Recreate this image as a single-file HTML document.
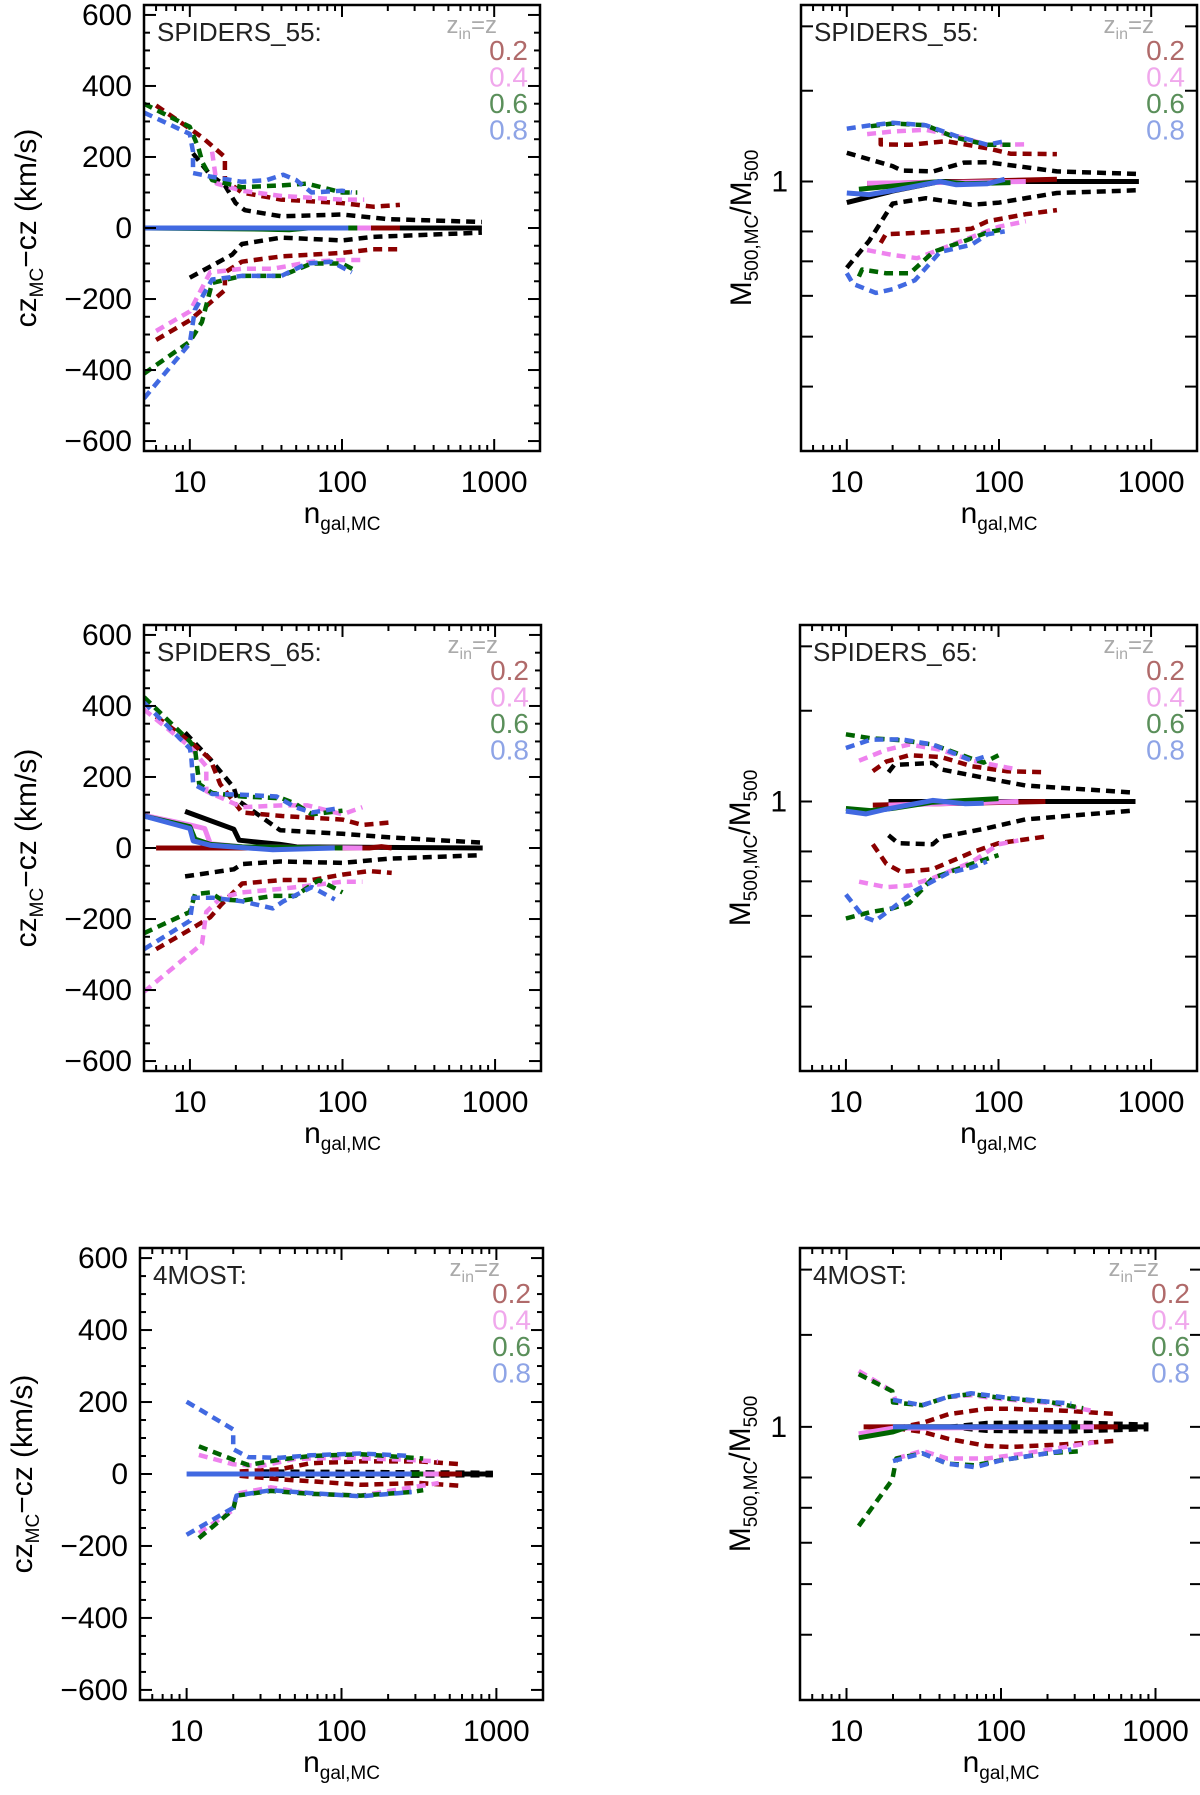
<!DOCTYPE html>
<html><head><meta charset="utf-8">
<style>
html,body{margin:0;padding:0;background:#fff;}
svg{display:block;font-family:"Liberation Sans",sans-serif;}
</style></head>
<body>
<svg id="fig" width="1200" height="1795" viewBox="0 0 1200 1795" xmlns="http://www.w3.org/2000/svg"></svg>
<script>
// ---------- DATA: [n_gal, value] pairs ----------
// Panel cz SPIDERS_55
const cz55_blk_s=[[5,0],[830,0]];
const cz55_blk_u=[[10.5,210],[13.6,150],[17,120],[20,70],[23,50],[40,33],[100,38],[200,25],[830,17]];
const cz55_blk_l=[[10,-140],[19,-75],[22,-45],[40,-27],[100,-35],[160,-25],[830,-13]];
const cz55_red_u=[[6,345],[10,280],[12.1,255],[17,200],[17,135],[22,100],[40,80],[100,70],[160,60],[240,65]];
const cz55_red_l=[[6,-315],[10,-260],[17,-175],[17,-125],[22,-95],[40,-80],[100,-70],[160,-60],[240,-60]];
const cz55_vio_u=[[14,215],[15,125],[22,105],[40,90],[100,80],[140,80]];
const cz55_vio_l=[[6,-290],[10,-235],[13.6,-125],[22,-115],[35,-115],[63,-95],[100,-90],[140,-90]];
const cz55_grn_u=[[5,350],[10,285],[11.4,225],[12.1,185],[14,135],[22,115],[40,120],[59,125],[100,100],[126,100]];
const cz55_grn_l=[[5,-410],[10,-320],[12,-265],[14,-155],[22,-135],[40,-135],[63,-100],[100,-100],[123,-120]];
const cz55_blu_u=[[5,325],[10,265],[10.5,215],[10.5,155],[13.6,145],[22,130],[32,135],[41,150],[50,135],[63,100],[100,105],[116,100]];
const cz55_blu_l=[[5,-480],[10,-325],[10.8,-230],[14,-145],[22,-135],[40,-135],[59,-100],[85,-95],[116,-125]];
const cz55_red_s=[[5,0],[240,0]];
const cz55_vio_s=[[5,0],[155,0]];
const cz55_grn_s=[[5,0],[30,-3],[45,-5],[60,0],[126,0]];
const cz55_blu_s=[[5,0],[110,0]];
// Panel cz SPIDERS_65
const cz65_blk_s=[[9.3,103],[19.4,53],[21,22],[39,10],[50,3],[830,0]];
const cz65_blk_u=[[9.3,325],[13.6,250],[19.4,170],[20.5,135],[39,50],[100,40],[200,30],[830,15]];
const cz65_blk_l=[[9.3,-80],[19.4,-60],[22,-45],[39,-38],[100,-42],[200,-30],[830,-20]];
const cz65_red_u=[[6,370],[10,300],[13.6,250],[15.8,180],[22,100],[40,90],[100,80],[135,65],[210,72]];
const cz65_red_l=[[6,-285],[10,-230],[13.6,-195],[16,-160],[22,-100],[40,-90],[63,-90],[100,-75],[150,-65],[210,-70]];
const cz65_vio_u=[[5,390],[10,285],[12.8,230],[12.8,160],[22,115],[40,120],[59,120],[100,95],[135,115]];
const cz65_vio_l=[[5,-405],[12,-270],[12.8,-180],[16,-140],[22,-125],[40,-115],[63,-105],[100,-95],[135,-95]];
const cz65_grn_u=[[5,425],[10,300],[10.8,280],[11.5,180],[14,155],[22,145],[40,140],[49,125],[63,95],[100,105]];
const cz65_grn_l=[[5,-240],[10,-180],[10.8,-130],[13.6,-125],[16,-145],[22,-148],[35,-135],[49,-135],[70,-90],[100,-125]];
const cz65_blu_u=[[5,410],[10,280],[10.2,260],[10.5,180],[14,152],[22,150],[37,145],[49,115],[63,100],[89,110]];
const cz65_blu_l=[[5,-285],[10,-205],[10.5,-140],[14,-140],[22,-150],[35,-170],[41,-150],[63,-110],[89,-145]];
const cz65_red_s=[[6,0],[150,0],[180,4],[210,0]];
const cz65_vio_s=[[5,92],[10,65],[12.5,55],[13.6,12],[22,3],[135,0]];
const cz65_grn_s=[[5,90],[10,60],[10.8,25],[13.6,10],[22,3],[100,0]];
const cz65_blu_s=[[5,90],[10,55],[10.5,20],[13.6,8],[35,-5],[89,0]];
// Panel cz 4MOST
const cz4m_blk_s=[[20,0],[950,0]];
const cz4m_blk_u=[[30,7],[200,5],[600,4],[950,3]];
const cz4m_blk_l=[[30,-5],[200,-5],[950,-3]];
const cz4m_red_u=[[22,7],[40,13],[63,30],[133,35],[318,35],[600,27]];
const cz4m_red_l=[[22,-5],[40,-15],[63,-20],[133,-30],[318,-25],[600,-33]];
const cz4m_vio_u=[[12,53],[20,27],[30,22],[50,42],[100,45],[250,40],[420,35]];
const cz4m_vio_l=[[12,-164],[20,-100],[21,-55],[35,-37],[63,-55],[133,-60],[425,-25]];
const cz4m_grn_u=[[12,77],[20,40],[25,25],[40,40],[63,50],[133,55],[337,43]];
const cz4m_grn_l=[[12,-178],[20,-99],[21,-60],[35,-47],[63,-55],[133,-60],[284,-50],[337,-45]];
const cz4m_blu_u=[[10,201],[20,124],[20,69],[25,47],[40,45],[63,52],[133,57],[284,50]];
const cz4m_blu_l=[[10,-169],[20,-94],[21,-60],[35,-45],[63,-53],[133,-62],[284,-50]];
const cz4m_red_s=[[13,0],[600,0]];
const cz4m_vio_s=[[12,0],[425,0]];
const cz4m_grn_s=[[12,0],[337,0]];
const cz4m_blu_s=[[10,0],[284,0]];
// Panel M SPIDERS_55
const m55_blk_s=[[10,0.91],[20,0.958],[41,1],[830,1]];
const m55_blk_u=[[10,1.137],[20,1.071],[23,1.05],[37,1.046],[59,1.088],[84,1.09],[240,1.046],[830,1.034]];
const m55_blk_l=[[10,0.68],[14,0.767],[20,0.906],[33,0.928],[66,0.901],[100,0.91],[240,0.95],[830,0.962]];
const m55_red_u=[[16.7,1.216],[16.7,1.18],[26,1.178],[45,1.197],[84,1.16],[119,1.132],[240,1.13]];
const m55_red_l=[[16.7,0.76],[18,0.79],[37,0.798],[66,0.81],[84,0.837],[150,0.864],[240,0.88]];
const m55_vio_u=[[13.6,1.236],[20,1.25],[33,1.26],[52,1.226],[84,1.178],[150,1.18]];
const m55_vio_l=[[13.6,0.736],[20,0.72],[29,0.71],[47,0.75],[66,0.78],[100,0.817],[150,0.837]];
const m55_grn_u=[[14.4,1.28],[20,1.296],[33,1.286],[52,1.216],[84,1.178],[119,1.178]];
const m55_grn_l=[[12,0.654],[12.6,0.675],[18,0.664],[26,0.664],[37,0.73],[59,0.766],[84,0.797],[112,0.81]];
const m55_blu_u=[[10,1.266],[14.4,1.286],[20,1.30],[33,1.286],[52,1.226],[84,1.178],[109,1.197]];
const m55_blu_l=[[10,0.664],[11,0.633],[15.5,0.608],[20,0.618],[28,0.643],[41,0.73],[66,0.754],[84,0.79],[109,0.80]];
const m55_red_s=[[13.6,0.99],[240,1.01]];
const m55_vio_s=[[13.6,0.992],[150,1]];
const m55_grn_s=[[12,0.966],[41,1],[60,0.99],[119,0.995]];
const m55_blu_s=[[10,0.95],[14,0.943],[20,0.96],[41,1],[52,0.986],[84,0.99],[109,1.01]];
// Panel M SPIDERS_65
const m65_blk_s=[[19,1],[790,1]];
const m65_blk_u=[[19,1.14],[20.7,1.177],[37,1.188],[42,1.154],[84,1.109],[150,1.074],[790,1.04]];
const m65_blk_l=[[19,0.86],[22,0.83],[37,0.826],[42,0.853],[84,0.887],[150,0.923],[790,0.961]];
const m65_red_u=[[15,1.145],[18.4,1.195],[26,1.23],[42,1.22],[67,1.17],[113,1.145],[203,1.14]];
const m65_red_l=[[15,0.826],[18.4,0.757],[23,0.73],[37,0.739],[67,0.797],[100,0.83],[203,0.855]];
const m65_vio_u=[[12.2,1.2],[18.4,1.26],[26,1.29],[42,1.26],[67,1.2],[113,1.164],[135,1.154]];
const m65_vio_l=[[12.2,0.699],[18.4,0.682],[26,0.687],[37,0.71],[67,0.763],[100,0.826],[135,0.84]];
const m65_grn_u=[[10,1.35],[14.5,1.326],[23,1.315],[37,1.29],[67,1.21],[80,1.19],[100,1.23]];
const m65_grn_l=[[10,0.593],[14.5,0.61],[20,0.62],[26,0.635],[37,0.71],[67,0.757],[100,0.787]];
const m65_blu_u=[[10,1.27],[14.5,1.318],[23,1.32],[37,1.29],[67,1.2],[80,1.22]];
const m65_blu_l=[[10,0.66],[13,0.598],[15.5,0.586],[20,0.62],[28,0.67],[47,0.727],[67,0.745],[84,0.765]];
const m65_red_s=[[15,0.984],[203,1]];
const m65_vio_s=[[19,0.984],[135,1]];
const m65_grn_s=[[10,0.969],[14.5,0.96],[20,0.969],[37,0.997],[100,1.013]];
const m65_blu_s=[[10,0.958],[13.5,0.946],[18,0.965],[37,1.005],[60,0.99],[80,0.992]];
// Panel M 4MOST
const m4m_blk_s=[[20,1],[900,1]];
const m4m_blk_u=[[46,1.0],[81,1.017],[257,1.02],[900,1.01]];
const m4m_blk_l=[[46,1.0],[81,0.983],[257,0.98],[900,0.99]];
const m4m_red_u=[[21,0.994],[31,1.017],[46,1.058],[81,1.083],[115,1.083],[257,1.074],[570,1.058]];
const m4m_red_l=[[21,0.994],[31,0.978],[46,0.948],[81,0.919],[115,0.915],[257,0.926],[570,0.941]];
const m4m_vio_u=[[12,1.28],[19.8,1.17],[21,1.114],[31,1.1],[45,1.14],[64,1.15],[102,1.13],[204,1.112],[380,1.075]];
const m4m_vio_l=[[21,0.87],[31,0.9],[45,0.87],[81,0.87],[145,0.89],[400,0.934]];
const m4m_grn_u=[[12,1.262],[19.8,1.17],[20,1.114],[31,1.1],[45,1.14],[64,1.156],[102,1.135],[204,1.117],[340,1.086]];
const m4m_grn_l=[[12,0.646],[19.8,0.792],[21,0.87],[31,0.89],[45,0.85],[68,0.844],[102,0.864],[204,0.891],[325,0.898]];
const m4m_blu_u=[[20,1.126],[31,1.1],[45,1.14],[64,1.16],[102,1.14],[204,1.117],[285,1.108]];
const m4m_blu_l=[[20,0.86],[31,0.89],[45,0.85],[68,0.837],[102,0.864],[204,0.891],[285,0.905]];
const m4m_red_s=[[12.9,1],[570,1]];
const m4m_vio_s=[[12,0.97],[20,0.994],[400,1]];
const m4m_grn_s=[[12,0.953],[20,0.978],[25,1],[325,1]];
const m4m_blu_s=[[20,1],[285,1]];

const xTickLabels=["10","100","1000"];
const xTickValues=[10,100,1000];
const czTickValues=[600,400,200,0,-200,-400,-600];
const mTickValues=[0.4,0.5,0.6,0.7,0.8,1,1.5,2];
const legendLabels=["0.2","0.4","0.6","0.8"];

// ---------- RENDER ----------
const NS="http://www.w3.org/2000/svg";
const svg=document.getElementById('fig');
function mk(tag,attrs,parent){const e=document.createElementNS(NS,tag);for(const k in attrs)e.setAttribute(k,attrs[k]);(parent||svg).appendChild(e);return e;}
const COL={blk:"#000000",red:"#8b0000",vio:"#ee82ee",grn:"#006400",blu:"#4169e1"};
const LEGCOL=["#b06a6a","#f0a8ec","#5a8f5a","#8ea4e6"];

function panel(id,box,kind,label,series){
  const g=mk('g',{});
  
  
  const X0=Math.log10(5),X1=Math.log10(2000);
  const sx=n=>box.l+(Math.log10(n)-X0)/(X1-X0)*box.w;
  let sy;
  if(kind==='cz'){sy=v=>box.t+(628-v)/1256*box.h;}
  else{const Y0=Math.log10(0.3),Y1=Math.log10(2.2);sy=v=>box.t+(Y1-Math.log10(v))/(Y1-Y0)*box.h;}
  const clip=mk('clipPath',{id:'c'+id},g);
  mk('rect',{x:box.l,y:box.t,width:box.w,height:box.h},clip);
  const lg=mk('g',{'clip-path':'url(#c'+id+')'},g);
  const order=['blk','red','vio','grn','blu'];
  order.forEach(c=>{['u','l'].forEach(s=>{
    const d=series[c+'_'+s];if(!d)return;
    const p=mk('polyline',{points:d.map(q=>sx(q[0]).toFixed(1)+','+sy(q[1]).toFixed(1)).join(' '),fill:'none',stroke:COL[c],'stroke-width':4.5,'stroke-dasharray':'9 6','stroke-linejoin':'round'},lg);
    
    
  });});
  order.forEach(c=>{
    const d=series[c+'_s'];if(!d)return;
    const p=mk('polyline',{points:d.map(q=>sx(q[0]).toFixed(1)+','+sy(q[1]).toFixed(1)).join(' '),fill:'none',stroke:COL[c],'stroke-width':5,'stroke-linejoin':'round'},lg);
    
    
  });
  const fr=mk('rect',{x:box.l,y:box.t,width:box.w,height:box.h,fill:'none',stroke:'#000','stroke-width':2.5},g);
  
  
  const B=box.t+box.h,R=box.l+box.w;
  [1,10,100,1000].forEach(dec=>{for(let k=1;k<10;k++){const n=dec*k;if(n<5||n>2000)continue;
    const x=sx(n),L=(k===1)?12:6;
    mk('line',{x1:x,y1:B,x2:x,y2:B-L,stroke:'#000','stroke-width':2},g);
    mk('line',{x1:x,y1:box.t,x2:x,y2:box.t+L,stroke:'#000','stroke-width':2},g);}});
  xTickValues.forEach((v,i)=>{const t=mk('text',{x:sx(v),y:B+41,'font-size':30,'text-anchor':'middle'},g);t.textContent=xTickLabels[i];
    
    });
  const xt=mk('text',{x:box.l+box.w/2,y:B+72,'font-size':30,'text-anchor':'middle'},g);
  
  
  xt.innerHTML='n<tspan font-size="19" dy="7">gal,MC</tspan>';
  if(kind==='cz'){
    for(let v=-600;v<=600;v+=50){const y=sy(v),L=(v%200===0)?12:6;
      mk('line',{x1:box.l,y1:y,x2:box.l+L,y2:y,stroke:'#000','stroke-width':2},g);
      mk('line',{x1:R,y1:y,x2:R-L,y2:y,stroke:'#000','stroke-width':2},g);}
    czTickValues.forEach(v=>{const t=mk('text',{x:box.l-12,y:sy(v)+10,'font-size':30,'text-anchor':'end'},g);
      t.textContent=(v<0?'\u2212':'')+Math.abs(v);
      
      });
    const yt=mk('text',{x:0,y:0,'font-size':30,'text-anchor':'middle',transform:'translate('+(box.l-108)+','+(box.t+box.h/2)+') rotate(-90)'},g);
    
    
    yt.setAttribute('xml:space','preserve');
    yt.innerHTML='cz<tspan font-size="19" dy="7">MC</tspan><tspan dy="-7">\u2212cz  (km/s)</tspan>';
  } else {
    mTickValues.forEach(v=>{const y=sy(v);
      mk('line',{x1:box.l,y1:y,x2:box.l+12,y2:y,stroke:'#000','stroke-width':2},g);
      mk('line',{x1:R,y1:y,x2:R-12,y2:y,stroke:'#000','stroke-width':2},g);});
    const t=mk('text',{x:box.l-13,y:sy(1)+10,'font-size':30,'text-anchor':'end'},g);t.textContent='1';
    
    
    const yt=mk('text',{x:0,y:0,'font-size':30,'text-anchor':'middle',transform:'translate('+(box.l-50)+','+(box.t+box.h/2)+') rotate(-90)'},g);
    
    
    yt.innerHTML='M<tspan font-size="19" dy="7">500,MC</tspan><tspan dy="-7">/M</tspan><tspan font-size="19" dy="7">500</tspan>';
  }
  const lb=mk('text',{x:box.l+13,y:box.t+36,'font-size':26,fill:'#222'},g);
  lb.textContent=label;
  
  
  const lt=mk('text',{x:R-43,y:box.t+28,'font-size':24,'text-anchor':'end',fill:'#aaaaaa'},g);
  lt.innerHTML='z<tspan font-size="16" dy="6">in</tspan><tspan dy="-6">=z</tspan>';
  
  
  legendLabels.forEach((s,i)=>{const e=mk('text',{x:R-12,y:box.t+55+i*26.5,'font-size':28,'text-anchor':'end',fill:LEGCOL[i]},g);
    e.textContent=s;
    
    });
}

function S(p){return {blk_s:eval(p+'_blk_s'),blk_u:eval(p+'_blk_u'),blk_l:eval(p+'_blk_l'),
  red_s:eval(p+'_red_s'),red_u:eval(p+'_red_u'),red_l:eval(p+'_red_l'),
  vio_s:eval(p+'_vio_s'),vio_u:eval(p+'_vio_u'),vio_l:eval(p+'_vio_l'),
  grn_s:eval(p+'_grn_s'),grn_u:eval(p+'_grn_u'),grn_l:eval(p+'_grn_l'),
  blu_s:eval(p+'_blu_s'),blu_u:eval(p+'_blu_u'),blu_l:eval(p+'_blu_l')};}

panel('cz55',{l:144,t:5,w:396,h:446},'cz','SPIDERS_55:',S('cz55'));
panel('m55',{l:801,t:5,w:396,h:446},'m','SPIDERS_55:',S('m55'));
panel('cz65',{l:144,t:625,w:397,h:446},'cz','SPIDERS_65:',S('cz65'));
panel('m65',{l:800,t:625,w:397,h:446},'m','SPIDERS_65:',S('m65'));
panel('cz4m',{l:140,t:1248,w:403,h:452},'cz','4MOST:',S('cz4m'));
panel('m4m',{l:800,t:1248,w:402,h:452},'m','4MOST:',S('m4m'));
</script>
</body></html>
